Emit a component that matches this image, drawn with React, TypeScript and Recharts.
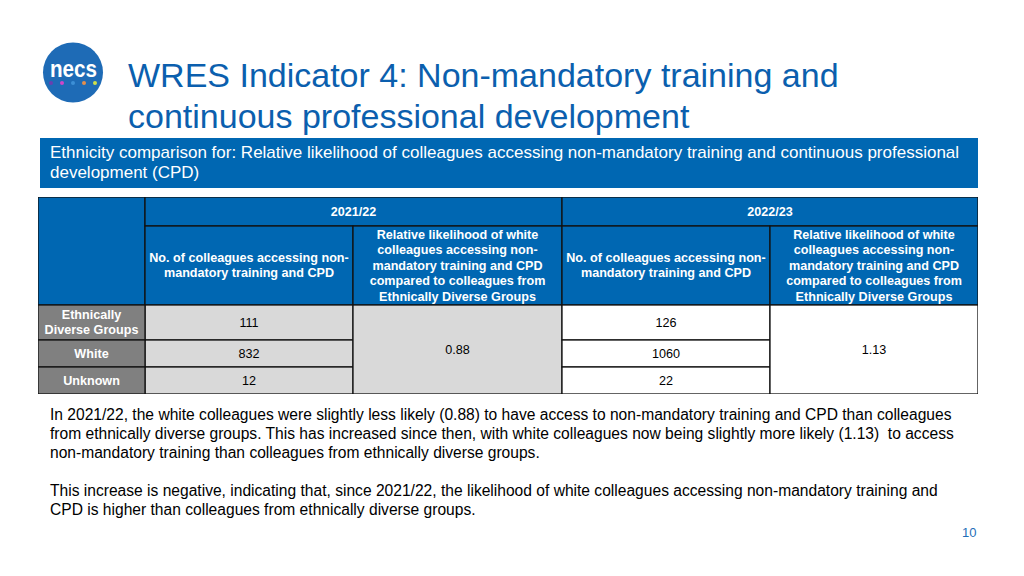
import React from 'react'
import { ScatterChart, Scatter, XAxis, YAxis } from 'recharts'

const groups = [['Ethnically', 'Diverse Groups'], ['White'], ['Unknown']]
const years = ['2021/22', '2022/23']
const countHeader = ['No. of colleagues accessing non-', 'mandatory training and CPD']
const ratioHeader = [
  'Relative likelihood of white',
  'colleagues accessing non-',
  'mandatory training and CPD',
  'compared to colleagues from',
  'Ethnically Diverse Groups',
]
const counts2122 = [111, 832, 12]
const counts2223 = [126, 1060, 22]
const ratios = [0.88, 1.13]

const FONT = '"Liberation Sans", Arial, Helvetica, sans-serif'
const BLUE = '#0067b2'
const GREY = '#808080'
const LIGHT = '#d9d9d9'

// grille du tableau, en unités d'axe (1 unité = 1 px)
const colEdges = [0, 107, 315, 524, 732, 940]
const rowEdges = [0, 29, 108, 143, 170, 197]
const TABLE_W = 940
const TABLE_H = 197

type Cell = {
  c0: number; c1: number; r0: number; r1: number
  lines: string[]; fill: string; color: string; bold: boolean; lh: number
}

function buildCells(): Cell[] {
  const out: Cell[] = []
  out.push({ c0: 0, c1: 1, r0: 0, r1: 2, lines: [], fill: BLUE, color: '#fff', bold: true, lh: 15 })
  const countsByYear = [counts2122, counts2223]
  years.forEach((y, i) => {
    const base = 1 + 2 * i
    const bodyFill = i === 0 ? LIGHT : '#ffffff'
    out.push({ c0: base, c1: base + 2, r0: 0, r1: 1, lines: [y], fill: BLUE, color: '#fff', bold: true, lh: 15 })
    out.push({ c0: base, c1: base + 1, r0: 1, r1: 2, lines: countHeader, fill: BLUE, color: '#fff', bold: true, lh: 15.5 })
    out.push({ c0: base + 1, c1: base + 2, r0: 1, r1: 2, lines: ratioHeader, fill: BLUE, color: '#fff', bold: true, lh: 15.5 })
    countsByYear[i].forEach((v, j) => {
      out.push({ c0: base, c1: base + 1, r0: 2 + j, r1: 3 + j, lines: [String(v)], fill: bodyFill, color: '#000', bold: false, lh: 15 })
    })
    out.push({ c0: base + 1, c1: base + 2, r0: 2, r1: 5, lines: [ratios[i].toFixed(2)], fill: bodyFill, color: '#000', bold: false, lh: 15 })
  })
  groups.forEach((g, j) => {
    out.push({ c0: 0, c1: 1, r0: 2 + j, r1: 3 + j, lines: g, fill: GREY, color: '#fff', bold: true, lh: 15 })
  })
  return out.map(c => ({
    ...c,
    x: (colEdges[c.c0] + colEdges[c.c1]) / 2,
    y: (rowEdges[c.r0] + rowEdges[c.r1]) / 2,
    w: colEdges[c.c1] - colEdges[c.c0],
    h: rowEdges[c.r1] - rowEdges[c.r0],
  }))
}

const cells = buildCells()

function CellShape(props: any) {
  const { cx, cy, payload } = props
  const { w, h, fill, lines, color, bold, lh } = payload
  const startY = cy - ((lines.length - 1) * lh) / 2
  return (
    <g>
      <rect x={cx - w / 2} y={cy - h / 2} width={w} height={h} fill={fill} stroke="#111" strokeWidth={1.3} />
      <text textAnchor="middle" fontFamily={FONT} fontSize={12.6} fontWeight={bold ? 700 : 400} fill={color}>
        {lines.map((l: string, k: number) => (
          <tspan key={k} x={cx} y={startY + k * lh} dominantBaseline="central">{l}</tspan>
        ))}
      </text>
    </g>
  )
}

function Logo() {
  const dots = ['#6a3fb0', '#cf45c8', '#3d8fd6', '#e58e4c', '#cfe04a']
  return (
    <svg width={80} height={64} style={{ position: 'absolute', left: 41, top: 41 }}>
      <circle cx={32} cy={31.5} r={30} fill="#1e6bb6" />
      <text x={9} y={36} fontFamily={FONT} fontWeight={700} fontSize={24} fill="#fff" textLength={47} lengthAdjust="spacingAndGlyphs">necs</text>
      {dots.map((c, i) => (
        <circle key={i} cx={10 + i * 11} cy={42} r={2} fill={c} />
      ))}
    </svg>
  )
}

export default function App() {
  return (
    <div style={{ position: 'absolute', left: 0, top: 0, width: 1024, height: 576, background: '#fff', fontFamily: FONT, overflow: 'hidden' }}>
      <Logo />
      <div style={{ position: 'absolute', left: 128, top: 54.7, fontSize: 34, lineHeight: '41px', color: '#0b5fae', whiteSpace: 'nowrap' }}>
        WRES Indicator 4: Non-mandatory training and<br />continuous professional development
      </div>
      <div style={{ position: 'absolute', left: 40, top: 138, width: 938, height: 50, background: BLUE, boxSizing: 'border-box', padding: '4.5px 10px', color: '#fff', fontSize: 17, lineHeight: '20px' }}>
        Ethnicity comparison for: Relative likelihood of colleagues accessing non-mandatory training and continuous professional development (CPD)
      </div>
      <div style={{ position: 'absolute', left: 36, top: 195 }}>
        <ScatterChart width={TABLE_W + 4} height={TABLE_H + 4} margin={{ top: 2, right: 2, bottom: 2, left: 2 }}>
          <XAxis type="number" dataKey="x" domain={[0, TABLE_W]} hide allowDataOverflow />
          <YAxis type="number" dataKey="y" domain={[0, TABLE_H]} reversed hide allowDataOverflow />
          <Scatter data={cells} shape={CellShape} isAnimationActive={false} />
        </ScatterChart>
      </div>
      <div style={{ position: 'absolute', left: 50, top: 405, width: 915, fontSize: 15.6, lineHeight: '19px', color: '#000' }}>
        <p style={{ margin: 0 }}>
          In 2021/22, the white colleagues were slightly less likely (0.88) to have access to non-mandatory training and CPD than colleagues from ethnically diverse groups. This has increased since then, with white colleagues now being slightly more likely (1.13)&nbsp; to access non-mandatory training than colleagues from ethnically diverse groups.
        </p>
        <p style={{ margin: '19px 0 0 0' }}>
          This increase is negative, indicating that, since 2021/22, the likelihood of white colleagues accessing non-mandatory training and CPD is higher than colleagues from ethnically diverse groups.
        </p>
      </div>
      <div style={{ position: 'absolute', left: 962, top: 525, fontSize: 13, color: '#1f6fb8' }}>10</div>
    </div>
  )
}
